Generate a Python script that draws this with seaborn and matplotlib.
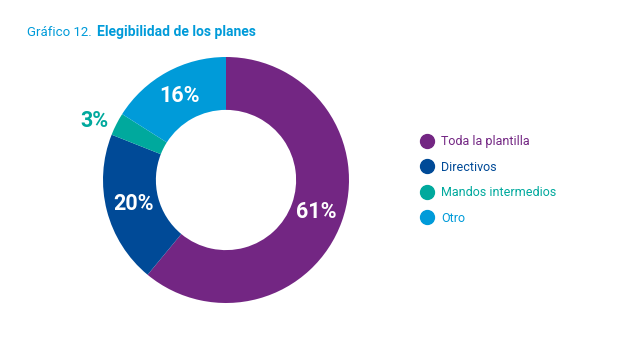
import numpy as np
import matplotlib
matplotlib.use("Agg")
import matplotlib.pyplot as plt
from matplotlib.lines import Line2D
import seaborn as sns

categories = ["Toda la plantilla", "Directivos", "Mandos intermedios", "Otro"]
values = [61, 20, 3, 16]
pct_labels = ["61%", "20%", "3%", "16%"]
colors = ["#732683", "#004A97", "#00A99D", "#009BD9"]
title_color = "#009BD9"

sns.set_theme(style="white")
plt.rcParams["font.family"] = ["Roboto", "DejaVu Sans"]

fig = plt.figure(figsize=(6.19, 3.57), dpi=100)
ax = fig.add_axes([103 / 619, 54 / 357, 246 / 619, 246 / 357])

wedges, _ = ax.pie(values, colors=colors, startangle=90, counterclock=False,
                   radius=1.0, wedgeprops=dict(width=0.43, edgecolor="none"))
ax.set_xlim(-1, 1)
ax.set_ylim(-1, 1)
ax.set_aspect("equal")
ax.axis("off")

for w, lab, col, v in zip(wedges, pct_labels, colors, values):
    ang = np.deg2rad((w.theta1 + w.theta2) / 2)
    if v < 5:
        r, c, dang = 1.17, col, np.deg2rad(3)
    else:
        r, c, dang = 0.78, "white", 0
    ax.text(r * np.cos(ang + dang), r * np.sin(ang + dang), lab, ha="center", va="center",
            color=c, fontsize=15.5, fontweight="bold")

fig.text(27 / 619, 1 - 36 / 357, "Gráfico 12.", color=title_color, fontsize=9.5,
         ha="left", va="baseline")
fig.text(97 / 619, 1 - 36 / 357, "Elegibilidad de los planes", color=title_color,
         fontsize=10, fontweight="bold", ha="left", va="baseline")

handles = [Line2D([], [], marker="o", linestyle="none", markersize=10,
                  markerfacecolor=c, markeredgecolor=c) for c in colors]
leg = fig.legend(handles, categories, loc="center left",
                 bbox_to_anchor=(421 / 619, 1 - 180 / 357),
                 frameon=False, fontsize=9, handlelength=1.0, handletextpad=0.6,
                 labelspacing=1.0, borderpad=0, borderaxespad=0)
for t, c in zip(leg.get_texts(), colors):
    t.set_color(c)

fig.savefig("out.png", dpi=100)
